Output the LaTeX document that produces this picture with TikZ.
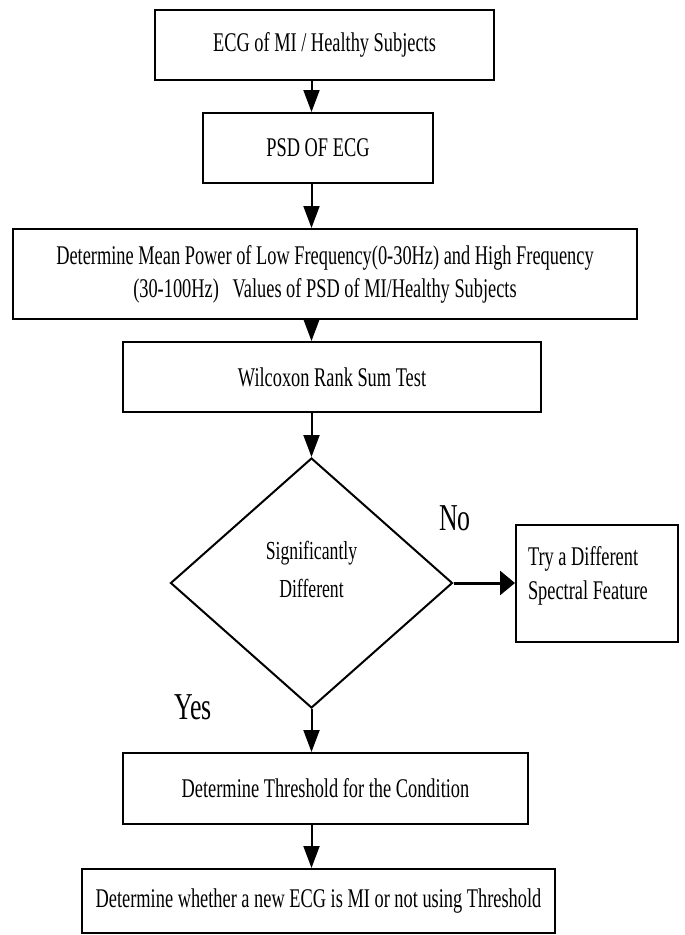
\documentclass[tikz,border=0pt]{standalone}
\usepackage{fontspec}
\setmainfont{Liberation Serif}[FakeStretch=0.68]
\usetikzlibrary{shapes.geometric,arrows.meta}

\begin{document}
\begin{tikzpicture}[x=1pt,y=-1pt,color=black,every path/.append style={line width=2pt},
  box/.style={draw,rectangle,inner sep=0pt,align=center,font=\fontsize{27}{33}\selectfont},
  arr/.style={-{Triangle[length=22pt,width=16pt]}},
  lbl/.style={inner sep=0pt,font=\fontsize{38}{44}\selectfont}]
\useasboundingbox (0,0) rectangle (685,935);
\node(ecg) [box,minimum width=339pt,minimum height=70pt] at (324.5,45) {ECG of MI / Healthy Subjects};
\node(psd) [box,minimum width=230pt,minimum height=70pt] at (318,148) {PSD OF ECG};
\node(pow) [box,minimum width=624pt,minimum height=90pt] at (325,274)
  {Determine Mean Power of Low Frequency(0-30Hz) and High Frequency\\(30-100Hz)\ \ \ Values of PSD of MI/Healthy Subjects};
\node(wil) [box,minimum width=418pt,minimum height=70pt] at (332,377) {Wilcoxon Rank Sum Test};
\node(sig) [draw,diamond,inner sep=0pt,minimum width=282pt,minimum height=250pt,align=center,
  font=\fontsize{26}{38}\selectfont] at (311.5,583) {Significantly\\Different\\[-10pt]\mbox{}};
\node(alt) [draw,rectangle,inner xsep=12pt,inner ysep=0pt,minimum height=117pt,
  font=\fontsize{27}{34}\selectfont] at (597,583.5)
  {\parbox{138pt}{Try a Different\\Spectral Feature\\[-12pt]\mbox{}}};
\node(thr) [box,minimum width=405pt,minimum height=71pt] at (325.5,788.5) {Determine Threshold for the Condition};
\node(dec) [box,minimum width=473pt,minimum height=64pt] at (318.5,901) {Determine whether a new ECG is MI or not using Threshold};
\node(no) [lbl] at (455,518) {No};
\node(yes) [lbl] at (193,707) {Yes};

\draw[arr] (ecg.south -| sig.north) -- (psd.north -| sig.north);
\draw[arr] (psd.south -| sig.north) -- (pow.north -| sig.north);
\draw[arr] (pow.south -| sig.north) -- (wil.north -| sig.north);
\draw[arr] (wil.south -| sig.north) -- (sig.north);
\draw[-{Triangle[length=15pt,width=24pt]},line width=3pt] (sig.east) -- (sig.east -| alt.west);
\draw[arr] (sig.south) -- (thr.north -| sig.south);
\draw[arr] (thr.south -| sig.south) -- (dec.north -| sig.south);
\end{tikzpicture}
\end{document}
